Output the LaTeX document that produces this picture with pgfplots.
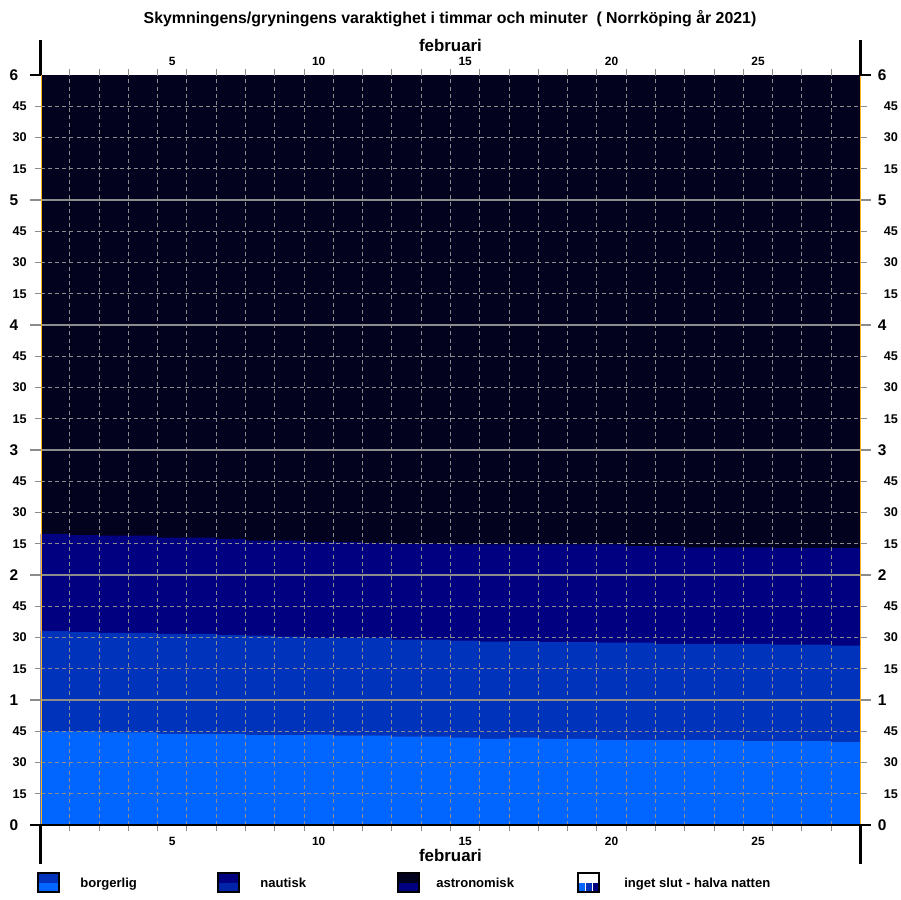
\documentclass[border=0pt]{standalone}
\usepackage{fontspec}
\setmainfont{Liberation Sans}
\usepackage{pgfplots}
\pgfplotsset{compat=1.18}
\usepackage{pgfplotstable}
\definecolor{night}{RGB}{2,2,30}
\definecolor{astroc}{RGB}{0,0,128}
\definecolor{nautc}{RGB}{0,51,187}
\definecolor{civc}{RGB}{0,102,255}
\definecolor{gridgray}{RGB}{140,140,140}
\definecolor{edgeor}{RGB}{255,180,30}

% minutes, cumulative tops of each band; day 29 repeats day 28 to close the last step
\pgfplotstableread{
day civ naut astro
1 45.0 93.1 139.7
2 45.0 92.6 139.2
3 44.5 92.2 138.9
4 44.5 92.2 138.9
5 43.8 91.7 137.9
6 43.8 91.7 137.9
7 43.8 91.2 137.3
8 43.2 90.9 136.5
9 43.2 90.4 136.5
10 43.4 89.8 135.8
11 42.9 89.8 135.8
12 42.9 89.8 135.4
13 42.4 89.0 134.9
14 42.4 89.0 134.9
15 41.9 88.5 134.7
16 41.4 88.0 134.7
17 41.9 88.3 134.7
18 41.4 87.8 134.7
19 41.4 87.8 134.7
20 40.8 87.5 134.7
21 40.8 87.5 133.9
22 40.8 87.0 133.9
23 40.8 87.0 133.3
24 40.8 87.0 133.3
25 40.3 87.0 133.3
26 40.3 86.6 133.0
27 40.3 86.6 133.0
28 39.8 86.1 133.0
29 39.8 86.1 133.0
}\data

\pgfplotsset{
  geom/.style={at={(10.125mm,-206.25mm)}, anchor=south west, scale only axis,
    width=205mm, height=187.5mm, xmin=0.5, xmax=28.5, ymin=0, ymax=360},
  /pgf/number format/assume math mode=true,
}

\begin{document}
\begin{tikzpicture}
\begin{scope}[x=0.25mm,y=-0.25mm]
  \path[use as bounding box] (0,0) rectangle (900,900);
\end{scope}

% main axis: data, grid, tick marks
\begin{axis}[geom,
  axis background/.style={fill=night},
  axis on top, axis line style={draw=none},
  tick align=outside,
  xtick={1.5,2.5,...,27.5}, xticklabels={},
  ytick={15,30,45,75,90,105,135,150,165,195,210,225,255,270,285,315,330,345},
  yticklabels={},
  major tick length=1.5mm,
  tick style={gridgray, line width=0.25mm, solid},
  grid=major,
  major grid style={gridgray, line width=0.25mm, dash pattern=on 1mm off 0.8mm},
  extra y ticks={60,120,180,240,300},
  extra y tick labels={},
  extra y tick style={major tick length=2.5mm,
     tick style={gridgray, line width=0.5mm, solid},
     major grid style={gridgray, line width=0.5mm, solid}},
]
\addplot[const plot, fill=astroc, draw=none] table[x expr=\thisrow{day}-0.5, y=astro]{\data} \closedcycle;
\addplot[const plot, fill=nautc, draw=none] table[x expr=\thisrow{day}-0.5, y=naut]{\data} \closedcycle;
\addplot[const plot, fill=civc, draw=none] table[x expr=\thisrow{day}-0.5, y=civ]{\data} \closedcycle;
\end{axis}

% left / bottom labels
\begin{axis}[geom,
  axis line style={draw=none}, major tick length=0pt, tick style={draw=none},
  xtick={5,10,15,20,25},
  xticklabel style={font=\bfseries\fontsize{8.5}{8.5}\selectfont, inner sep=0pt, anchor=north, yshift=-2.9mm},
  ytick={15,30,45,75,90,105,135,150,165,195,210,225,255,270,285,315,330,345},
  yticklabels={15,30,45,15,30,45,15,30,45,15,30,45,15,30,45,15,30,45},
  yticklabel style={font=\bfseries\fontsize{9}{9}\selectfont, inner sep=0pt, anchor=east, xshift=-3.4mm},
  extra y ticks={0,60,120,180,240,300,360},
  extra y tick labels={0,1,2,3,4,5,6},
  extra y tick style={yticklabel style={font=\bfseries\fontsize{11}{11}\selectfont, xshift=-2.1mm}},
  xlabel={februari},
  xlabel style={at={(axis description cs:0.5,0)}, anchor=north, inner sep=0pt, yshift=-6mm, font=\bfseries\fontsize{12}{12}\selectfont},
]
\end{axis}

% right / top labels
\begin{axis}[geom,
  axis line style={draw=none}, major tick length=0pt, tick style={draw=none},
  xticklabel pos=top, yticklabel pos=right,
  xtick={5,10,15,20,25},
  xticklabel style={font=\bfseries\fontsize{8.5}{8.5}\selectfont, inner sep=0pt, anchor=south, yshift=2.4mm},
  ytick={15,30,45,75,90,105,135,150,165,195,210,225,255,270,285,315,330,345},
  yticklabels={15,30,45,15,30,45,15,30,45,15,30,45,15,30,45,15,30,45},
  yticklabel style={font=\bfseries\fontsize{9}{9}\selectfont, inner sep=0pt, anchor=west, xshift=5.75mm},
  extra y ticks={0,60,120,180,240,300,360},
  extra y tick labels={0,1,2,3,4,5,6},
  extra y tick style={yticklabel style={font=\bfseries\fontsize{11}{11}\selectfont, xshift=-1.5mm}},
  xlabel={februari},
  xlabel style={at={(axis description cs:0.5,1)}, anchor=base, inner sep=0pt, yshift=5.9mm, font=\bfseries\fontsize{12}{12}\selectfont},
]
\end{axis}

\begin{scope}[x=0.25mm,y=-0.25mm]
  % frame pieces
  \draw[edgeor, line width=0.25mm] (41,75)--(41,825);
  \draw[edgeor, line width=0.25mm] (860,75)--(860,825);
  \draw[line width=0.6mm] (40.5,40)--(40.5,75.5);
  \draw[line width=0.6mm] (40.5,824)--(40.5,864);
  \draw[line width=0.6mm] (860.5,40)--(860.5,75.5);
  \draw[line width=0.6mm] (860.5,824)--(860.5,864);
  \draw[line width=0.5mm] (30,825)--(871,825);
  \draw[line width=0.5mm] (30,75)--(41,75);
  \draw[line width=0.5mm] (860,75)--(871,75);
  % title
  \node[font=\bfseries\fontsize{11.3}{13}\selectfont] at (450,19)
    {Skymningens/gryningens varaktighet i timmar och minuter\ \ ( Norrköping år 2021)};
  % legend
  \begin{scope}[font=\bfseries\fontsize{9.3}{9.3}\selectfont]
  \fill[nautc] (38,873) rectangle (59,882.5);
  \fill[civc] (38,882.5) rectangle (59,892);
  \draw[line width=0.3mm] (38,873) rectangle (59,892);
  \node[anchor=base west, inner sep=0pt] at (80,887) {borgerlig};
  \fill[astroc] (218,873) rectangle (239,882.5);
  \fill[nautc!70!astroc] (218,882.5) rectangle (239,892);
  \draw[line width=0.3mm] (218,873) rectangle (239,892);
  \node[anchor=base west, inner sep=0pt] at (260,887) {nautisk};
  \fill[night] (398,873) rectangle (419,882.5);
  \fill[astroc] (398,882.5) rectangle (419,892);
  \draw[line width=0.3mm] (398,873) rectangle (419,892);
  \node[anchor=base west, inner sep=0pt] at (436,887) {astronomisk};
  \fill[white] (578,873) rectangle (599,882.5);
  \fill[civc] (578,882.5) rectangle (585,892);
  \fill[nautc] (586,882.5) rectangle (592,892);
  \fill[astroc] (593,882.5) rectangle (599,892);
  \draw[line width=0.3mm] (578,873) rectangle (599,892);
  \node[anchor=base west, inner sep=0pt] at (624,887) {inget slut - halva natten};
  \end{scope}
\end{scope}
\end{tikzpicture}
\end{document}
